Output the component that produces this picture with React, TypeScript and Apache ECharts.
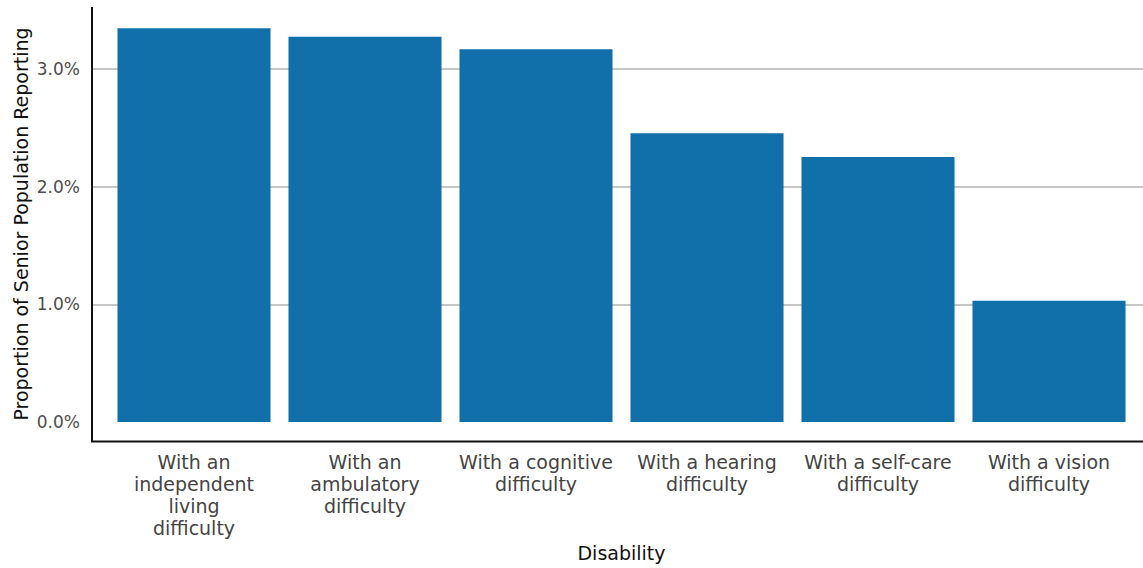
import React, { useEffect, useRef } from "react";
import * as echarts from "echarts";

const categories = [
  "With an\nindependent\nliving\ndifficulty",
  "With an\nambulatory\ndifficulty",
  "With a cognitive\ndifficulty",
  "With a hearing\ndifficulty",
  "With a self-care\ndifficulty",
  "With a vision\ndifficulty",
];
const values = [3.345, 3.274, 3.167, 2.453, 2.252, 1.03];
const yMax = 3.526;
const yTickInterval = 1;
const xTitle = "Disability";
const yTitle = "Proportion of Senior Population Reporting";

const FONT = "DejaVu Sans";

export default function App() {
  const ref = useRef<HTMLDivElement>(null);
  useEffect(() => {
    document.body.style.margin = "0";
    const chart = echarts.init(ref.current!, null, { renderer: "svg" });
    chart.setOption({
      animation: false,
      backgroundColor: "#ffffff",
      grid: [
        { left: 92, right: 0, top: 7, height: 415 },
        { left: 108.5, width: 1026, top: 7, height: 415 },
        { left: 92, right: 0, top: 7, height: 434 },
      ],
      xAxis: [
        {
          gridIndex: 0,
          type: "category",
          data: categories,
          show: false,
        },
        {
          gridIndex: 1,
          type: "category",
          data: categories,
          axisLine: { show: false },
          axisTick: { show: false },
          axisLabel: {
            interval: 0,
            margin: 29,
            color: "#444444",
            fontFamily: FONT,
            fontSize: 19,
            lineHeight: 22,
            align: "center",
          },
          name: xTitle,
          nameLocation: "middle",
          nameGap: 120,
          nameTextStyle: { color: "#111111", fontFamily: FONT, fontSize: 19 },
        },
        {
          gridIndex: 2,
          type: "category",
          data: categories,
          show: false,
        },
      ],
      yAxis: [
        {
          gridIndex: 0,
          type: "value",
          min: 0,
          max: yMax,
          interval: yTickInterval,
          axisLine: { show: false },
          axisTick: { show: false },
          axisLabel: {
            margin: 12,
            color: "#4d4d4d",
            fontFamily: FONT,
            fontSize: 17,
            showMaxLabel: false,
            formatter: (v: number) => v.toFixed(1) + "%",
          },
          splitLine: {
            show: true,
            lineStyle: {
              color: ["rgba(0,0,0,0)", "#b3b3b3", "#b3b3b3", "#b3b3b3"],
              width: 1.5,
            },
          },
        },
        {
          gridIndex: 1,
          type: "value",
          min: 0,
          max: yMax,
          show: false,
          splitLine: { show: false },
        },
        {
          gridIndex: 2,
          type: "value",
          min: 0,
          max: 1,
          axisLine: { show: false },
          axisTick: { show: false },
          axisLabel: { show: false },
          splitLine: { show: false },
          name: yTitle,
          nameLocation: "middle",
          nameGap: 62,
          nameTextStyle: { color: "#111111", fontFamily: FONT, fontSize: 19 },
        },
      ],
      series: [
        {
          type: "bar",
          xAxisIndex: 1,
          yAxisIndex: 1,
          data: values,
          barWidth: "89.5%",
          itemStyle: { color: "#1170aa" },
        },
      ],
      graphic: [
        {
          type: "line",
          shape: { x1: 92, y1: 7, x2: 92, y2: 442 },
          style: { stroke: "#111111", lineWidth: 2 },
          z: 10,
        },
        {
          type: "line",
          shape: { x1: 91, y1: 441.5, x2: 1143, y2: 441.5 },
          style: { stroke: "#111111", lineWidth: 2 },
          z: 10,
        },
      ],
    });
    return () => chart.dispose();
  }, []);
  return <div ref={ref} style={{ width: 1143, height: 568 }} />;
}
